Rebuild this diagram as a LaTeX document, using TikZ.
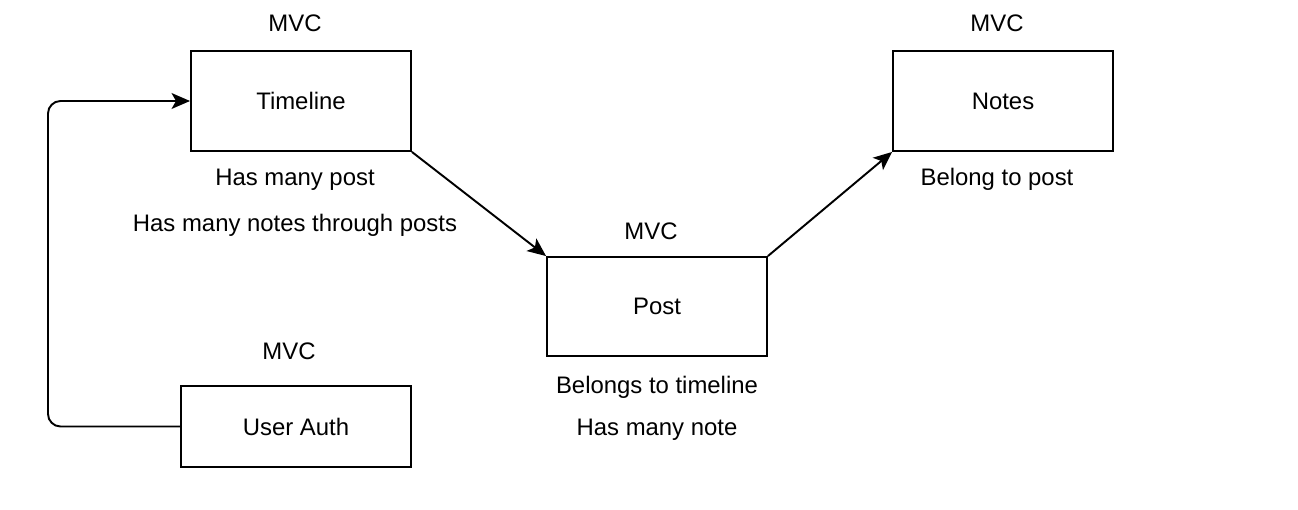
\documentclass[tikz,border=0pt]{standalone}
\usepackage{fontspec}
\setmainfont{Liberation Sans}
\usetikzlibrary{arrows.meta}
\tikzset{
  box/.style={draw,line width=1.1pt,minimum width=4.4cm,minimum height=2cm,inner sep=0pt},
  txt/.style={font=\fontsize{13.6}{16}\selectfont,inner sep=0pt},
  link/.style={line width=1.1pt,-{Stealth[length=10.5pt,width=9pt,inset=2.5pt]}}
}
\begin{document}
\begin{tikzpicture}[x=0.02cm,y=-0.02cm]
\useasboundingbox (0,0) rectangle (1298,510);
% boxes
\node[box,txt] (timeline) at (301,101) {Timeline};
\node[box,txt] (notes) at (1003,101) {Notes};
\node[box,txt,minimum height=1.98cm] (post) at (657,306.5) {Post};
\node[box,txt,minimum width=4.6cm,minimum height=1.62cm] (auth) at (296,426.5) {User Auth};
% labels
\node[txt] (mvcTimeline) at (295,23) {MVC};
\node[txt] (mvcNotes) at (997,23) {MVC};
\node[txt] (mvcPost) at (651,231) {MVC};
\node[txt] (mvcAuth) at (289,351) {MVC};
\node[txt] (hasPost) at (295,179.5) {Has many post};
\node[txt] (hasNotes) at (295,225) {Has many notes through posts};
\node[txt] (belongPost) at (997,179.5) {Belong to post};
\node[txt] (belongTimeline) at (657,387.5) {Belongs to timeline};
\node[txt] (hasNote) at (657,429.5) {Has many note};
% connectors
\draw[link,rounded corners=0.25cm] (auth.west) -- (48,426.5) -- (48,101) -- (timeline.west);
\draw[link] (timeline.south east) -- (post.north west);
\draw[link] (post.north east) -- (notes.south west);
\end{tikzpicture}
\end{document}
